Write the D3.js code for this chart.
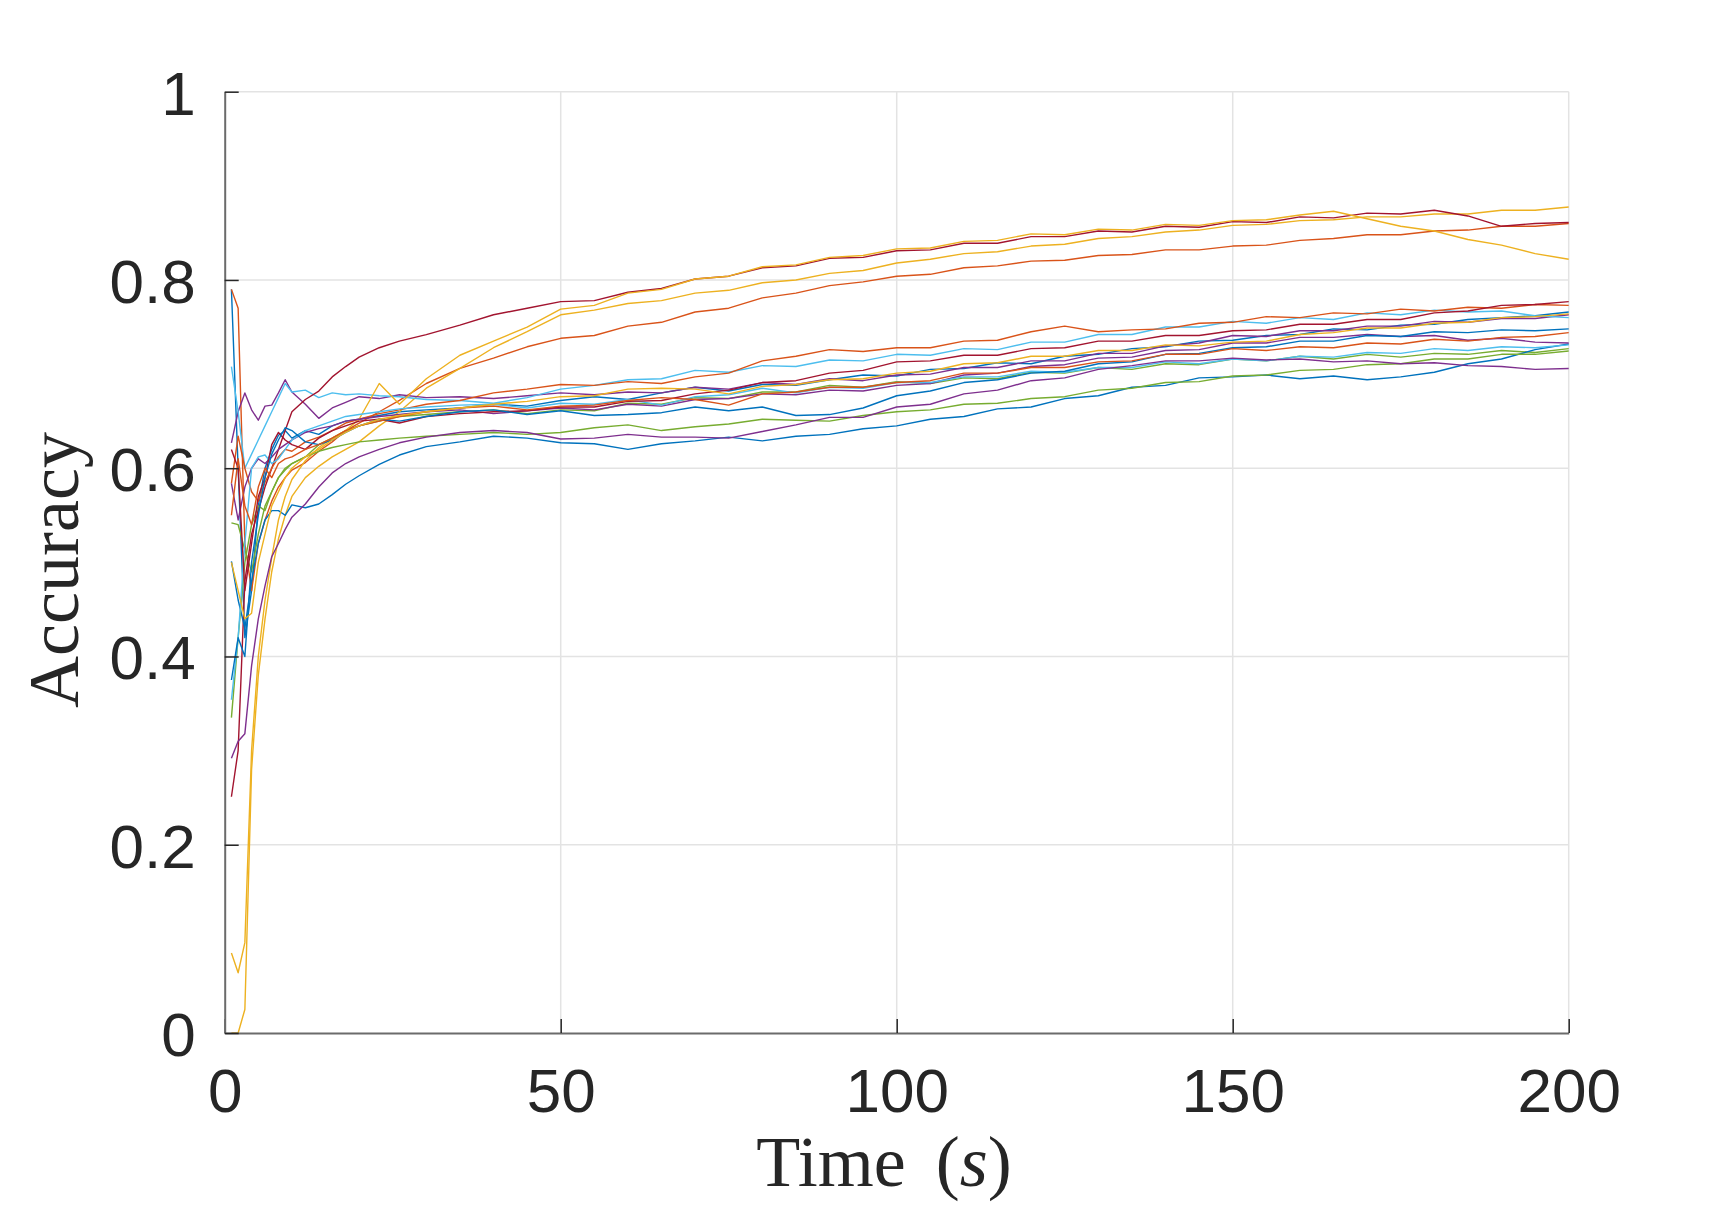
<!DOCTYPE html>
<html>
<head>
<meta charset="utf-8">
<script src="https://cdn.jsdelivr.net/npm/d3@7"></script>
<style>
  body { margin: 0; background: #fff; }
  .tick text { font-family: "Liberation Sans", Arial, sans-serif; fill: #262626; }
  .axlabel { font-family: "Liberation Serif", "DejaVu Serif", serif; fill: #262626; }
</style>
</head>
<body>
<svg id="chart" width="1734" height="1211"></svg>
<script>
// sample times (s) shared by all runs
let timeSteps = [1,2,3,4,5,6,7,8,9,10,12,14,16,18,20,23,26,30,35,40,
  45,50,55,60,65,70,75,80,85,90,95,100,105,110,115,120,125,130,135,140,
  145,150,155,160,165,170,175,180,185,190,195,200];

// accuracy of each run
let run01 = [0.790,0.600,0.420,0.470,0.560,0.600,0.620,0.635,0.640,0.632,0.640,0.636,0.645,0.650,0.652,0.656,0.660,0.662,0.664,0.668,
  0.666,0.672,0.676,0.673,0.680,0.686,0.682,0.689,0.688,0.694,0.699,0.698,0.705,0.706,0.712,0.711,0.719,0.721,0.727,0.729,
  0.735,0.736,0.741,0.742,0.748,0.747,0.752,0.753,0.758,0.760,0.762,0.766];
let run02 = [0.790,0.770,0.520,0.470,0.520,0.545,0.565,0.580,0.590,0.598,0.606,0.618,0.628,0.640,0.648,0.660,0.672,0.690,0.706,0.717,
  0.729,0.738,0.741,0.751,0.755,0.766,0.770,0.781,0.786,0.794,0.798,0.804,0.806,0.813,0.815,0.820,0.821,0.826,0.827,0.832,
  0.832,0.836,0.837,0.842,0.844,0.848,0.848,0.852,0.853,0.857,0.857,0.860];
let run03 = [0.000,0.000,0.025,0.280,0.380,0.440,0.490,0.525,0.550,0.570,0.590,0.602,0.612,0.620,0.628,0.645,0.660,0.685,0.706,0.728,
  0.745,0.763,0.768,0.775,0.778,0.786,0.789,0.797,0.800,0.807,0.810,0.818,0.822,0.828,0.830,0.836,0.838,0.844,0.846,0.851,
  0.853,0.858,0.859,0.863,0.864,0.867,0.867,0.870,0.870,0.874,0.874,0.8775];
let run04 = [0.627,0.660,0.680,0.662,0.651,0.666,0.667,0.680,0.694,0.681,0.668,0.653,0.664,0.670,0.676,0.674,0.678,0.675,0.676,0.674,
  0.677,0.680,0.678,0.681,0.680,0.686,0.684,0.691,0.689,0.695,0.693,0.699,0.700,0.707,0.707,0.714,0.714,0.722,0.722,0.730,
  0.733,0.741,0.740,0.746,0.746,0.751,0.751,0.756,0.755,0.759,0.759,0.763];
let run05 = [0.542,0.540,0.513,0.490,0.530,0.560,0.575,0.590,0.598,0.605,0.612,0.625,0.632,0.640,0.645,0.650,0.655,0.657,0.660,0.662,
  0.658,0.662,0.661,0.669,0.668,0.675,0.674,0.681,0.681,0.688,0.686,0.692,0.690,0.696,0.695,0.702,0.701,0.707,0.705,0.711,
  0.710,0.716,0.714,0.719,0.716,0.721,0.718,0.722,0.721,0.725,0.723,0.727];
let run06 = [0.708,0.660,0.600,0.615,0.630,0.645,0.660,0.675,0.690,0.681,0.683,0.675,0.680,0.678,0.679,0.677,0.676,0.673,0.672,0.669,
  0.675,0.684,0.688,0.694,0.695,0.704,0.702,0.709,0.708,0.715,0.714,0.721,0.720,0.727,0.726,0.734,0.734,0.742,0.742,0.750,
  0.750,0.756,0.754,0.760,0.758,0.765,0.763,0.768,0.766,0.767,0.762,0.760];
let run07 = [0.251,0.300,0.480,0.530,0.555,0.580,0.600,0.620,0.640,0.660,0.673,0.682,0.697,0.708,0.718,0.728,0.735,0.742,0.752,0.763,
  0.770,0.777,0.778,0.787,0.791,0.801,0.804,0.813,0.815,0.823,0.824,0.831,0.832,0.839,0.839,0.846,0.846,0.852,0.851,0.857,
  0.856,0.862,0.861,0.867,0.866,0.871,0.870,0.874,0.868,0.857,0.860,0.861];
let run08 = [0.501,0.460,0.430,0.480,0.520,0.545,0.555,0.555,0.550,0.561,0.558,0.562,0.572,0.583,0.592,0.604,0.614,0.623,0.628,0.634,
  0.632,0.627,0.626,0.620,0.626,0.629,0.633,0.629,0.634,0.636,0.642,0.645,0.652,0.655,0.663,0.665,0.674,0.677,0.686,0.688,
  0.696,0.697,0.699,0.695,0.698,0.694,0.697,0.702,0.711,0.716,0.726,0.732];
let run09 = [0.584,0.634,0.600,0.575,0.565,0.585,0.600,0.612,0.620,0.618,0.628,0.633,0.640,0.648,0.652,0.658,0.662,0.668,0.672,0.680,
  0.684,0.689,0.688,0.692,0.690,0.697,0.701,0.714,0.719,0.726,0.724,0.728,0.728,0.735,0.736,0.745,0.751,0.745,0.747,0.748,
  0.754,0.755,0.761,0.760,0.765,0.764,0.769,0.767,0.771,0.770,0.774,0.773];
let run10 = [0.085,0.064,0.096,0.300,0.400,0.460,0.505,0.545,0.570,0.588,0.608,0.622,0.632,0.640,0.652,0.690,0.668,0.695,0.720,0.735,
  0.750,0.769,0.773,0.786,0.790,0.801,0.804,0.814,0.816,0.824,0.826,0.833,0.834,0.841,0.842,0.849,0.848,0.854,0.853,0.859,
  0.858,0.863,0.864,0.869,0.873,0.865,0.857,0.852,0.843,0.837,0.828,0.822];
let run11 = [0.584,0.545,0.580,0.600,0.610,0.605,0.612,0.620,0.625,0.630,0.638,0.642,0.645,0.650,0.652,0.655,0.657,0.660,0.662,0.658,
  0.661,0.664,0.662,0.668,0.666,0.673,0.674,0.679,0.678,0.683,0.682,0.688,0.690,0.699,0.701,0.708,0.710,0.717,0.718,0.725,
  0.726,0.733,0.733,0.739,0.739,0.742,0.740,0.741,0.736,0.738,0.734,0.733];
let run12 = [0.335,0.420,0.500,0.540,0.560,0.555,0.575,0.590,0.600,0.605,0.612,0.618,0.622,0.625,0.628,0.630,0.632,0.634,0.636,0.638,
  0.636,0.638,0.643,0.646,0.640,0.644,0.647,0.652,0.651,0.650,0.656,0.660,0.662,0.668,0.669,0.674,0.676,0.683,0.685,0.691,
  0.692,0.698,0.699,0.704,0.705,0.710,0.711,0.716,0.716,0.721,0.721,0.7245];
let run13 = [0.354,0.420,0.520,0.600,0.612,0.614,0.605,0.610,0.620,0.630,0.640,0.645,0.650,0.655,0.657,0.660,0.663,0.665,0.667,0.668,
  0.664,0.669,0.668,0.673,0.667,0.676,0.678,0.685,0.680,0.686,0.685,0.691,0.691,0.697,0.697,0.703,0.702,0.707,0.707,0.713,
  0.711,0.716,0.714,0.719,0.718,0.723,0.722,0.727,0.725,0.729,0.728,0.731];
let run14 = [0.620,0.600,0.470,0.520,0.570,0.590,0.625,0.638,0.630,0.625,0.620,0.632,0.640,0.645,0.650,0.652,0.648,0.655,0.658,0.660,
  0.661,0.665,0.665,0.671,0.672,0.679,0.683,0.691,0.693,0.701,0.704,0.713,0.714,0.720,0.720,0.727,0.728,0.735,0.735,0.741,
  0.741,0.746,0.747,0.753,0.753,0.758,0.758,0.765,0.767,0.773,0.774,0.777];
let run15 = [0.375,0.420,0.400,0.500,0.550,0.590,0.615,0.630,0.643,0.640,0.628,0.625,0.630,0.638,0.645,0.652,0.650,0.655,0.660,0.662,
  0.657,0.661,0.656,0.657,0.659,0.665,0.661,0.665,0.656,0.657,0.664,0.677,0.682,0.691,0.694,0.701,0.703,0.711,0.713,0.721,
  0.722,0.728,0.729,0.735,0.735,0.741,0.740,0.745,0.744,0.747,0.746,0.748];
let run16 = [0.550,0.610,0.560,0.540,0.580,0.600,0.590,0.605,0.610,0.612,0.620,0.625,0.632,0.640,0.645,0.650,0.655,0.660,0.664,0.666,
  0.662,0.666,0.667,0.672,0.675,0.673,0.667,0.679,0.681,0.686,0.686,0.691,0.693,0.701,0.701,0.707,0.707,0.713,0.714,0.721,
  0.721,0.727,0.725,0.729,0.728,0.733,0.732,0.737,0.735,0.739,0.740,0.744];
let run17 = [0.500,0.470,0.440,0.446,0.500,0.530,0.560,0.575,0.590,0.600,0.612,0.620,0.630,0.638,0.645,0.652,0.656,0.660,0.664,0.668,
  0.671,0.676,0.677,0.684,0.685,0.684,0.679,0.687,0.689,0.694,0.695,0.701,0.703,0.711,0.712,0.719,0.719,0.725,0.725,0.731,
  0.730,0.734,0.735,0.742,0.744,0.749,0.749,0.754,0.755,0.760,0.761,0.764];
let run18 = [0.292,0.310,0.318,0.390,0.440,0.475,0.506,0.520,0.535,0.548,0.562,0.580,0.595,0.605,0.612,0.620,0.627,0.633,0.638,0.640,
  0.638,0.631,0.632,0.636,0.633,0.633,0.632,0.639,0.646,0.654,0.654,0.665,0.668,0.679,0.683,0.693,0.696,0.705,0.709,0.714,
  0.714,0.717,0.715,0.716,0.713,0.714,0.711,0.712,0.709,0.708,0.705,0.706];

let runs = [run01, run02, run03, run04, run05, run06, run07, run08, run09,
  run10, run11, run12, run13, run14, run15, run16, run17, run18];

let xTicks = [0, 50, 100, 150, 200];
let yTicks = [0, 0.2, 0.4, 0.6, 0.8, 1];

// default MATLAB line colour order
let colorOrder = ["#0072BD", "#D95319", "#EDB120", "#7E2F8E", "#77AC30", "#4DBEEE", "#A2142F"];

let margin = { top: 91.7, right: 165.3, bottom: 178, left: 224.7 };
let svgWidth = 1734, svgHeight = 1211;
let width = svgWidth - margin.left - margin.right;
let height = svgHeight - margin.top - margin.bottom;

let svg = d3.select("#chart");
let chartGroup = svg.append("g")
  .attr("transform", `translate(${margin.left}, ${margin.top})`);

let xScale = d3.scaleLinear().domain([0, 200]).range([0, width]);
let yScale = d3.scaleLinear().domain([0, 1]).range([height, 0]);

// grid lines
chartGroup.append("g")
  .selectAll("line")
  .data(xTicks.slice(1))
  .enter()
  .append("line")
  .attr("x1", d => xScale(d)).attr("x2", d => xScale(d))
  .attr("y1", 0).attr("y2", height)
  .attr("stroke", "#e3e3e3").attr("stroke-width", 1.5);

chartGroup.append("g")
  .selectAll("line")
  .data(yTicks.slice(1))
  .enter()
  .append("line")
  .attr("x1", 0).attr("x2", width)
  .attr("y1", d => yScale(d)).attr("y2", d => yScale(d))
  .attr("stroke", "#e3e3e3").attr("stroke-width", 1.5);

// the runs
let line = d3.line()
  .x((d, i) => xScale(timeSteps[i]))
  .y(d => yScale(d));

chartGroup.append("g")
  .selectAll("path")
  .data(runs)
  .enter()
  .append("path")
  .attr("d", d => line(d))
  .attr("fill", "none")
  .attr("stroke", (d, i) => colorOrder[i % colorOrder.length])
  .attr("stroke-width", 1.4)
  .attr("stroke-linejoin", "round");

// axes, ticks pointing inward
let bottomAxis = d3.axisBottom(xScale)
  .tickValues(xTicks)
  .tickFormat(d3.format("d"))
  .tickSizeInner(-14)
  .tickSizeOuter(0)
  .tickPadding(35);

let leftAxis = d3.axisLeft(yScale)
  .tickValues(yTicks)
  .tickFormat(d => d === 0 || d === 1 ? String(d) : d.toFixed(1))
  .tickSizeInner(-14)
  .tickSizeOuter(0)
  .tickPadding(29);

let xAxis = chartGroup.append("g")
  .attr("transform", `translate(0, ${height})`)
  .call(bottomAxis);

let yAxis = chartGroup.append("g")
  .call(leftAxis);

[xAxis, yAxis].forEach(ax => {
  ax.select(".domain").attr("stroke", "#6b6b6b").attr("stroke-width", 2);
  ax.selectAll(".tick line").attr("stroke", "#262626").attr("stroke-width", 1.5);
  ax.selectAll(".tick text").attr("font-size", 62);
});
yAxis.selectAll(".tick text").attr("dy", "0.36em");

// axis labels
let xLabel = svg.append("text")
  .attr("class", "axlabel")
  .attr("x", 884)
  .attr("y", 1186)
  .attr("text-anchor", "middle")
  .attr("font-size", 72);
xLabel.append("tspan").text("Time");
xLabel.append("tspan").attr("dx", 12).text(" (");
xLabel.append("tspan").attr("font-style", "italic").text("s");
xLabel.append("tspan").text(")");

svg.append("text")
  .attr("class", "axlabel")
  .attr("transform", "translate(78, 570) rotate(-90)")
  .attr("text-anchor", "middle")
  .attr("font-size", 72)
  .text("Accuracy");
</script>
</body>
</html>
